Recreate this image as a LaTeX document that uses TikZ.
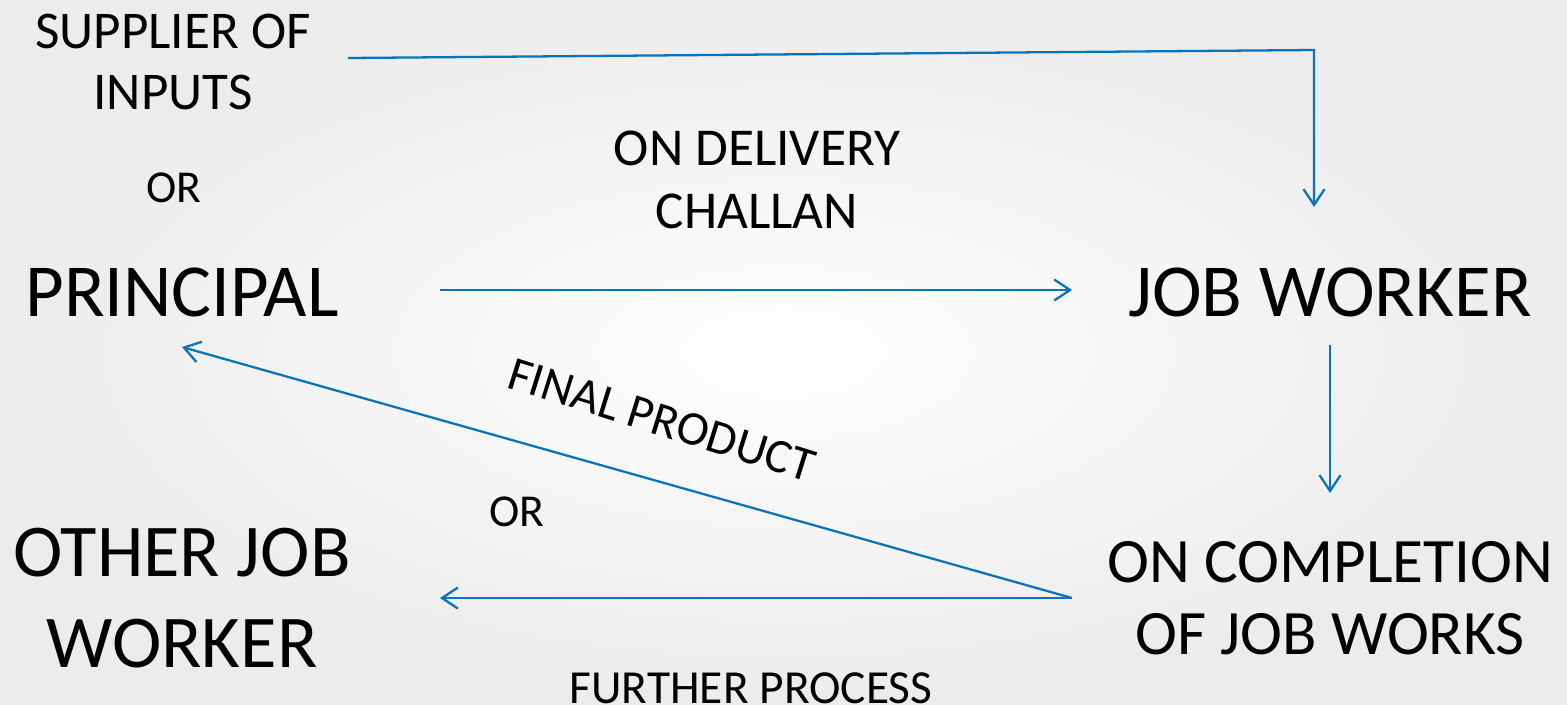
\documentclass[tikz,border=0pt]{standalone}
\usepackage{fontspec}
\setmainfont{Carlito}
\usepackage{tikz}
\usetikzlibrary{arrows.meta}

\begin{document}
\begin{tikzpicture}[x=0.02cm, y=-0.02cm,
  testo/.style={align=center, inner sep=0pt, font=\fontsize{42.6}{52}\selectfont},
  testoMedio/.style={align=center, inner sep=0pt, font=\fontsize{30.2}{35}\selectfont},
  testoPiccolo/.style={align=center, inner sep=0pt, font=\fontsize{26}{30}\selectfont},
  freccia/.style={draw=colLinea, line width=1.3pt, -{Straight Barb[length=9pt, width=12pt, line width=1.3pt]}}]

% Colori
\definecolor{colLinea}{HTML}{0B72BC}
\definecolor{colSfondo}{HTML}{ECECEC}

% Sfondo sfumato (fissa anche i margini)
\shade[inner color=white, outer color=colSfondo] (0,0) rectangle (1567,704);
\useasboundingbox (0,0) rectangle (1567,704);

% Blocco a sinistra
\node[testoMedio] (fornitore) at (173,62) {SUPPLIER OF\\INPUTS};
\node[testoPiccolo] (oSopra) at (174,188) {OR};
\node[testo] (principale) at (182,292) {PRINCIPAL};
\node[testo, font=\fontsize{42.4}{52}\selectfont] (altroLav) at (182,598) {OTHER JOB\\WORKER};

% Blocco a destra
\node[testo] (lavoratore) at (1330,292) {JOB WORKER};
\node[testo, font=\fontsize{36}{41}\selectfont] (completamento) at (1330,598) {ON COMPLETION\\OF JOB WORKS};

% Etichette delle frecce
\node[testoMedio, font=\fontsize{30.3}{36}\selectfont] (challan) at (757,180) {ON DELIVERY\\CHALLAN};
\node[testoMedio, font=\fontsize{27.5}{32}\selectfont, rotate=-17.4] (finale) at (662,420) {FINAL PRODUCT};
\node[testoPiccolo] (oSotto) at (517,512) {OR};
\node[testoPiccolo, font=\fontsize{27}{32}\selectfont] (ulteriore) at (751,688) {FURTHER PROCESS};

% Estremi delle frecce
\coordinate (fornOut) at (348,58);
\coordinate (angolo) at (1314,50);
\coordinate (lavIn) at (1314,207);
\coordinate (princOut) at (440,290);
\coordinate (lavSx) at (1072,290);
\coordinate (lavOut) at (1330,345);
\coordinate (complIn) at (1330,493);
\coordinate (complOut) at (1072,598);
\coordinate (princIn) at (182,347);
\coordinate (altroIn) at (440,598);

% Frecce
\draw[freccia] (fornOut) -- (angolo) -- (lavIn);
\draw[freccia] (princOut) -- (lavSx);
\draw[freccia] (lavOut) -- (complIn);
\draw[freccia] (complOut) -- (princIn);
\draw[freccia] (complOut) -- (altroIn);

\end{tikzpicture}
\end{document}
